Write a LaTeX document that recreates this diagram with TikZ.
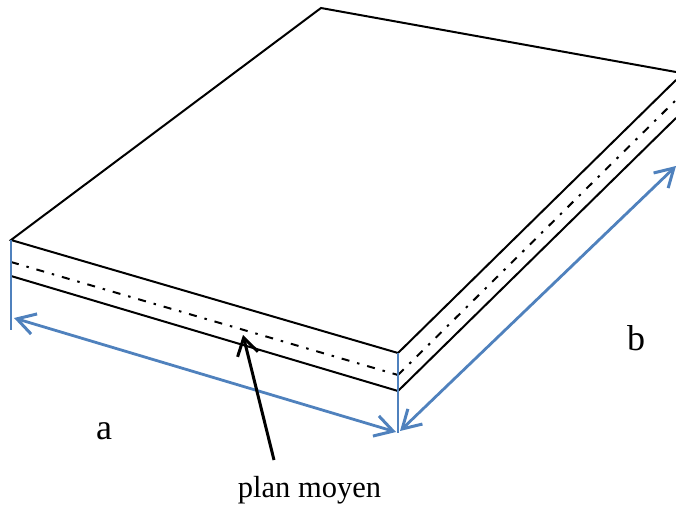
\documentclass[tikz,border=0pt]{standalone}
\usepackage{fontspec}
\setmainfont{Liberation Serif}
\usetikzlibrary{arrows.meta}
\definecolor{dimblue}{RGB}{79,129,189}
\tikzset{
  edgeline/.style={line width=2pt,black,line cap=round},
  midline/.style={line width=2pt,black,dash pattern=on 8pt off 8pt on 2.5pt off 8pt},
  guide/.style={line width=2.6pt,dimblue},
  dimarrow/.style={line width=2.8pt,dimblue,{Straight Barb[length=18pt,width=21pt,line width=3pt]}-{Straight Barb[length=18pt,width=21pt,line width=3pt]}},
  pointer/.style={line width=3pt,black,-{Straight Barb[length=17pt,width=21pt,line width=3pt]}},
  lab/.style={inner sep=0pt,font=\fontsize{36}{36}\selectfont},
  smalllab/.style={inner sep=0pt,font=\fontsize{30.5}{31}\selectfont}
}
\begin{document}
\begin{tikzpicture}[x=1pt,y=-1pt]
\useasboundingbox (0,0) rectangle (676,506);
\coordinate (L) at (11,240);
\coordinate (T) at (321,8);
\coordinate (R) at (676,72);
\coordinate (RU) at (676,80);
\coordinate (F) at (398,353);
\coordinate (LB) at (11,276);
\coordinate (FB) at (398,391);
\coordinate (RB) at (676,118);
\coordinate (LM) at (11,262);
\coordinate (FM) at (398,375);
\coordinate (RM) at (676,100);
\coordinate (LG) at (11,330);
\coordinate (FG) at (398,433);
\coordinate (A1) at (14,318);
\coordinate (A2) at (396,432);
\coordinate (B1) at (400,431);
\coordinate (B2) at (676,166);
\coordinate (P1) at (274,460);
\coordinate (P2) at (243,335);
\draw[edgeline] (F) -- (L) -- (T) -- (R);
\draw[edgeline] (F) -- (RU);
\draw[edgeline] (LB) -- (FB) -- (RB);
\draw[midline] (LM) -- (FM);
\draw[midline] (FM) -- (RM);
\draw[guide] (L) -- (LG);
\draw[guide] (F) -- (FG);
\draw[dimarrow] (A1) -- (A2);
\draw[dimarrow] (B1) -- (B2);
\draw[pointer] (P1) -- (P2);
\node[lab] (la) at (104,431) {a};
\node[lab] (lb) at (636,338) {b};
\node[smalllab,anchor=base] (lp) at (309.5,497) {plan moyen};
\end{tikzpicture}
\end{document}
